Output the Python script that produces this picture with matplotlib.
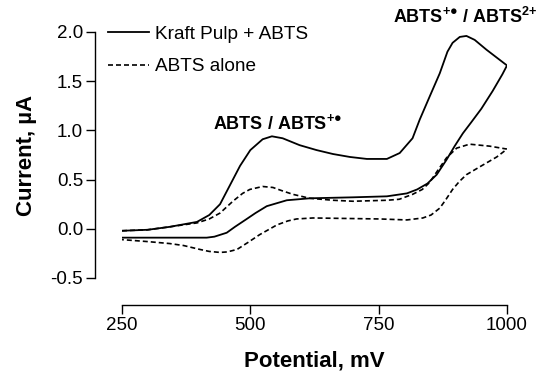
import numpy as np
import matplotlib
matplotlib.use("Agg")
import matplotlib.pyplot as plt

plt.rcParams['font.family'] = ['Liberation Sans', 'DejaVu Sans']
plt.rcParams['mathtext.fontset'] = 'custom'
plt.rcParams['mathtext.rm'] = 'Liberation Sans'
plt.rcParams['mathtext.bf'] = 'Liberation Sans:bold'

# Kraft pulp + ABTS, forward (oxidation) scan
kp_fwd_E = [250, 300, 343, 396, 420, 441, 460, 480, 500, 524, 542, 563, 596, 629, 661, 694,
            727, 766, 791, 816, 830, 849, 869, 884, 894, 908, 921, 937, 960, 980, 1000]
kp_fwd_I = [-0.02, -0.01, 0.02, 0.07, 0.14, 0.25, 0.44, 0.64, 0.80, 0.91, 0.94, 0.92, 0.85, 0.80, 0.76, 0.73,
            0.71, 0.71, 0.77, 0.92, 1.11, 1.34, 1.58, 1.80, 1.89, 1.95, 1.96, 1.92, 1.82, 1.74, 1.66]
# Kraft pulp + ABTS, reverse scan
kp_rev_E = [1000, 991, 972, 950, 930, 914, 898, 882, 863, 845, 825, 805, 766, 700, 616, 571,
            532, 510, 493, 470, 454, 430, 415, 350, 250]
kp_rev_I = [1.66, 1.57, 1.40, 1.22, 1.08, 0.97, 0.84, 0.70, 0.55, 0.46, 0.40, 0.36, 0.33, 0.32, 0.31, 0.29,
            0.23, 0.16, 0.10, 0.02, -0.04, -0.08, -0.09, -0.09, -0.09]

# ABTS alone, forward scan
ab_fwd_E = [250, 300, 343, 396, 420, 441, 466, 485, 499, 524, 544, 560, 583, 616, 661, 700,
            766, 790, 816, 835, 849, 866, 882, 902, 927, 966, 1000]
ab_fwd_I = [-0.02, -0.01, 0.02, 0.06, 0.10, 0.16, 0.28, 0.36, 0.40, 0.43, 0.42, 0.39, 0.35, 0.31, 0.29, 0.28,
            0.29, 0.30, 0.35, 0.40, 0.47, 0.60, 0.72, 0.82, 0.86, 0.84, 0.81]
# ABTS alone, reverse scan
ab_rev_E = [1000, 980, 947, 921, 907, 894, 880, 869, 852, 836, 805, 752, 622, 590, 573, 552,
            535, 518, 495, 474, 455, 441, 420, 402, 370, 343, 300, 250]
ab_rev_I = [0.81, 0.73, 0.63, 0.55, 0.48, 0.40, 0.29, 0.21, 0.14, 0.11, 0.09, 0.10, 0.11, 0.10, 0.08, 0.04,
            -0.01, -0.06, -0.14, -0.21, -0.235, -0.24, -0.23, -0.21, -0.17, -0.15, -0.13, -0.11]

fig = plt.figure(figsize=(5.43, 3.71), dpi=100)
ax = fig.add_axes([122/543, 93/371, 385/543, 246/371])

ax.plot(kp_fwd_E + kp_rev_E, kp_fwd_I + kp_rev_I, color='black', lw=1.3,
        solid_joinstyle='round', label='Kraft Pulp + ABTS')
ax.plot(ab_fwd_E + ab_rev_E, ab_fwd_I + ab_rev_I, color='black', lw=1.2,
        dashes=(3, 1.8), label='ABTS alone')

ax.set_xlim(250, 1000)
ax.set_ylim(-0.5, 2.0)
ax.set_xticks([250, 500, 750, 1000])
ax.set_yticks([-0.5, 0.0, 0.5, 1.0, 1.5, 2.0])
ax.set_yticklabels(['-0.5', '0.0', '0.5', '1.0', '1.5', '2.0'])

for s in ['top', 'right']:
    ax.spines[s].set_visible(False)
for s in ['left', 'bottom']:
    ax.spines[s].set_position(('outward', 19.5))
    ax.spines[s].set_linewidth(1.0)
ax.tick_params(direction='out', length=6.5, width=1.0, labelsize=13.5, pad=2)

ax.set_xlabel('Potential, mV', fontsize=16, fontweight='bold', labelpad=12)
ax.set_ylabel('Current, µA', fontsize=16, fontweight='bold', labelpad=10)

ax.text(427, 1.08, 'ABTS / ABTS$^{\\mathbf{+●}}$', fontsize=13, fontweight='bold',
        va='center', ha='left')
ax.text(777, 2.15, 'ABTS$^{\\mathbf{+●}}$ / ABTS$^{\\mathbf{2{+}}}$', fontsize=13,
        fontweight='bold', va='center', ha='left', clip_on=False)

leg = ax.legend(loc='upper left', bbox_to_anchor=(100/543, 1 - 18/371),
                bbox_transform=fig.transFigure, frameon=False, fontsize=13.7,
                handlelength=2.2, handletextpad=0.3, labelspacing=0.8, borderaxespad=0)

fig.savefig('out.png', dpi=100)
